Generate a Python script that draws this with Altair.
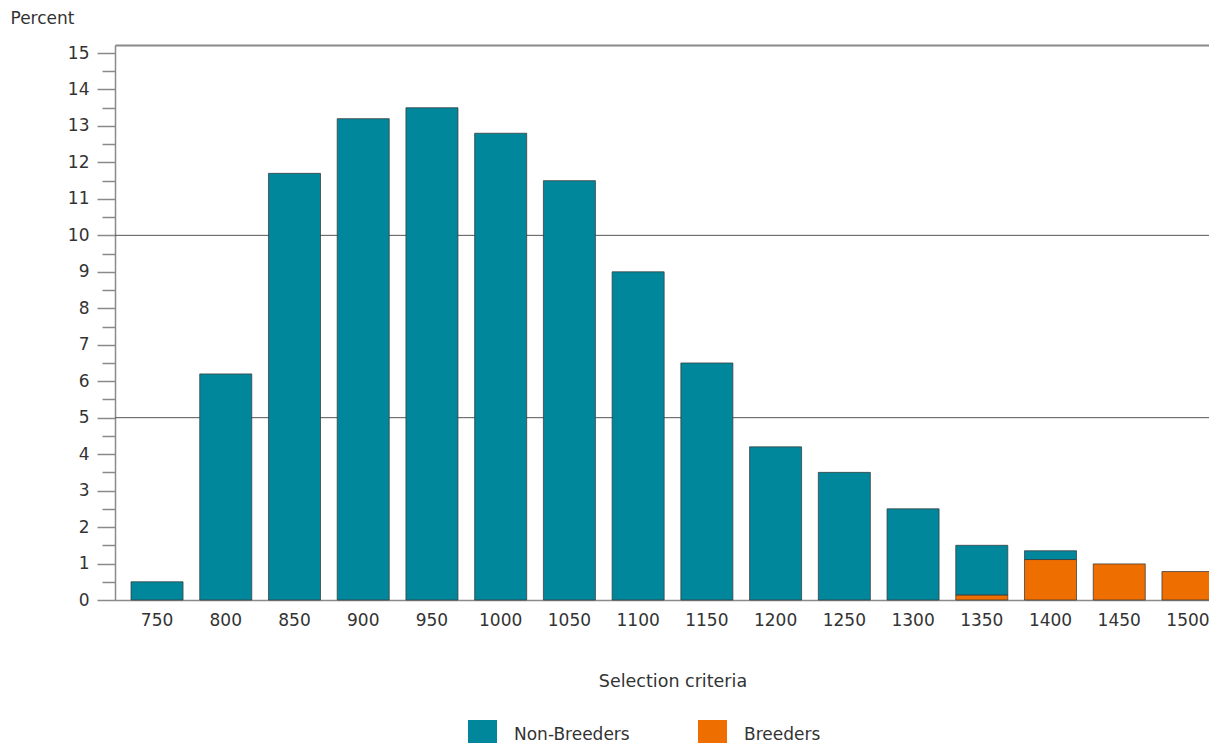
import altair as alt
import pandas as pd

categories = ["750", "800", "850", "900", "950", "1000", "1050", "1100",
              "1150", "1200", "1250", "1300", "1350", "1400", "1450", "1500"]
non_breeders = [0.5, 6.2, 11.7, 13.2, 13.5, 12.8, 11.5, 9.0,
                6.5, 4.2, 3.5, 2.5, 1.36, 0.24, 0.0, 0.0]
breeders = [0.0, 0.0, 0.0, 0.0, 0.0, 0.0, 0.0, 0.0,
            0.0, 0.0, 0.0, 0.0, 0.14, 1.11, 0.99, 0.78]
groups = ["Non-Breeders", "Breeders"]
colors = ["#00879b", "#ee6e00"]
gridlines = [5, 10]
y_ticks = [i / 2 for i in range(0, 31)]

rows = []
for c, nb, b in zip(categories, non_breeders, breeders):
    if b > 0:
        rows.append({"crit": c, "group": "Breeders", "value": b, "ord": 0})
    if nb > 0:
        rows.append({"crit": c, "group": "Non-Breeders", "value": nb, "ord": 1})
df = pd.DataFrame(rows)
grid_df = pd.DataFrame({"v": gridlines})

FONT = "DejaVu Sans"
TXT = "#333333"
AX = "#8a8a8a"
FS = 17

yscale = alt.Scale(domain=[0, 15.22], nice=False, zero=True)
xscale = alt.Scale(domain=categories, range=[0, 1115],
                   paddingInner=0.243, paddingOuter=0.233)

y_axis = alt.Axis(title="Percent", values=y_ticks,
                  labelExpr="datum.value % 1 === 0 ? format(datum.value, 'd') : ''",
                  tickSize={"condition": {"test": "datum.value % 1 === 0", "value": 18}, "value": 13},
                  tickColor=AX, tickWidth=1.5, domainColor=AX, domainWidth=1.5,
                  labelPadding=8, labelFontSize=FS, labelColor=TXT, labelFont=FONT,
                  grid=False, titleAngle=0, titleAlign="left", titleBaseline="middle",
                  titleX=-105, titleY=-27, titleFont=FONT, titleFontSize=FS,
                  titleFontWeight="normal", titleColor=TXT)

grid = alt.Chart(grid_df).mark_rule(color="#555555", strokeWidth=1).encode(
    y=alt.Y("v:Q", scale=yscale, axis=y_axis)
)

bars = alt.Chart(df).mark_bar(
    stroke="#3a3a3a", strokeWidth=1, strokeOpacity=0.75
).encode(
    x=alt.X("crit:N", scale=xscale, sort=categories,
            axis=alt.Axis(title="Selection criteria", labelAngle=0, ticks=False,
                          labelPadding=12, labelFontSize=FS, labelColor=TXT,
                          labelFont=FONT, titleFont=FONT, titleFontSize=17.5,
                          titleFontWeight="normal", titleColor=TXT,
                          titlePadding=44, domainColor=AX, domainWidth=1.5)),
    y=alt.Y("value:Q", stack="zero", scale=yscale, axis=y_axis),
    color=alt.Color("group:N",
                    scale=alt.Scale(domain=groups, range=colors),
                    legend=alt.Legend(title=None, orient="none", direction="horizontal",
                                      legendX=353, legendY=675, symbolType="square",
                                      symbolSize=841, symbolStrokeWidth=0,
                                      labelOffset=17, columnPadding=68,
                                      labelFontSize=FS, labelFont=FONT, labelColor=TXT)),
    order=alt.Order("ord:Q"),
)

top_frame = alt.Chart(df).mark_bar(opacity=0).encode(
    x=alt.X("crit:N", scale=xscale, sort=categories,
            axis=alt.Axis(orient="top", labels=False, ticks=False, title=None,
                          domainColor=AX, domainWidth=2)),
)

chart = alt.layer(grid, bars, top_frame).resolve_axis(x="independent").properties(
    width=1094, height=555,
    autosize=alt.AutoSizeParams(type="none"),
    padding={"left": 107, "top": 37, "right": 0, "bottom": 143},
).configure_view(stroke=None).configure(background="white")

chart.save("out.html", embed_options={"renderer": "svg", "actions": False})
